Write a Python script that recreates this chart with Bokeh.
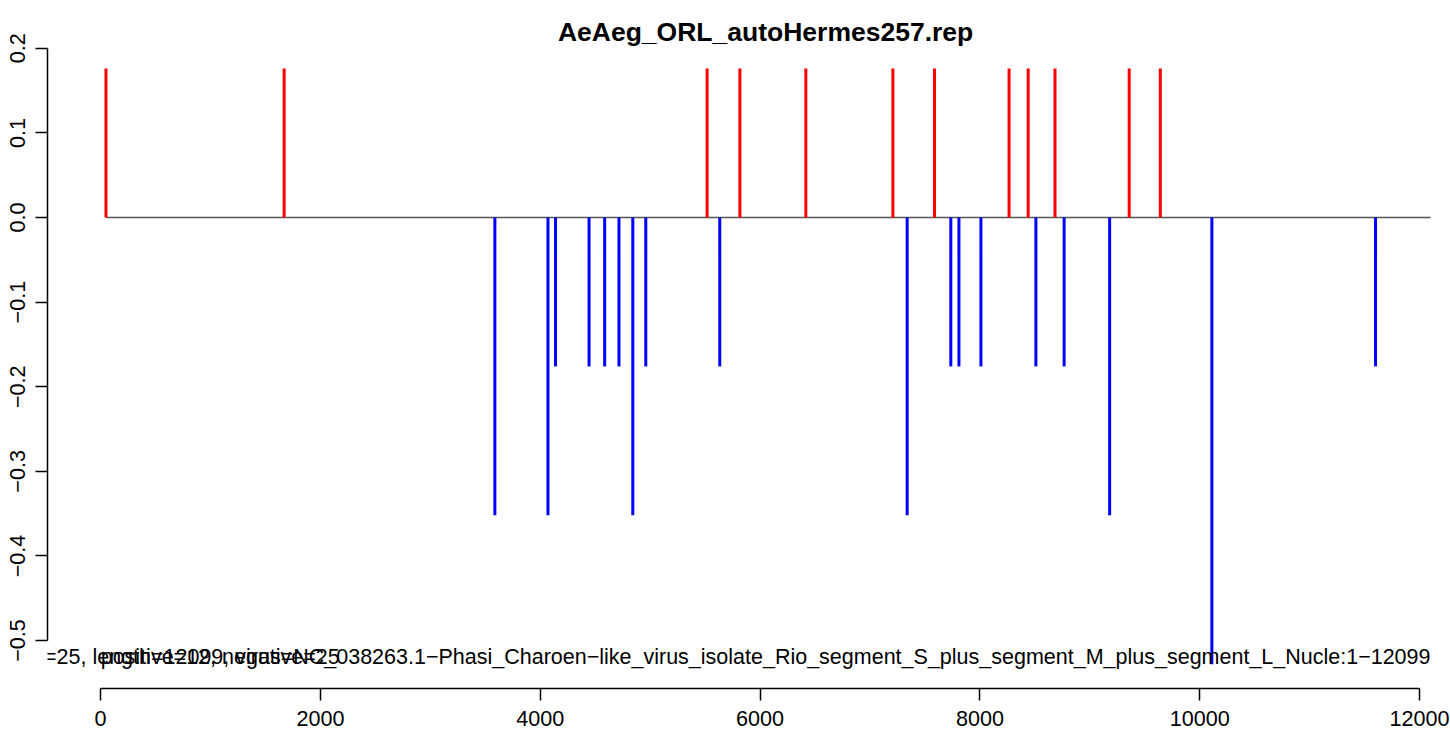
from bokeh.plotting import figure
from bokeh.models import Range1d, FixedTicker
from bokeh.core.properties import value
from bokeh.embed import file_html
from bokeh.resources import INLINE

# ---- data ----
title_text = "AeAeg_ORL_autoHermes257.rep"
seq_length = 12099

red_pos = [49, 1670, 5518, 5816, 6416, 7208, 7587, 8265, 8439, 8683, 9358, 9641]
red_val = [0.176, 0.176, 0.176, 0.176, 0.176, 0.176, 0.176, 0.176, 0.176, 0.176, 0.176, 0.176]

blue_pos = [3587, 4070, 4139, 4444, 4586, 4716, 4842, 4960, 5633, 7338,
            7735, 7809, 8009, 8509, 8766, 9180, 10110, 11599]
blue_val = [-0.352, -0.352, -0.176, -0.176, -0.176, -0.176, -0.352, -0.176, -0.176, -0.352,
            -0.176, -0.176, -0.176, -0.176, -0.176, -0.352, -0.528, -0.176]

x_ticks = [0, 2000, 4000, 6000, 8000, 10000, 12000]
y_ticks = [-0.5, -0.4, -0.3, -0.2, -0.1, 0.0, 0.1, 0.2]
y_tick_labels = ["\u22120.5", "\u22120.4", "\u22120.3", "\u22120.2", "\u22120.1", "0.0", "0.1", "0.2"]

info_left = "positive=12, negative=25"
# visible part of the long right-aligned label (its start is cut by the plot edge in the original)
info_right = ("=25, length=12099, virus=NC_038263.1\u2212Phasi_Charoen\u2212like_virus_isolate_Rio_"
              "segment_S_plus_segment_M_plus_segment_L_Nucle:1\u221212099")

FONT = "Liberation Sans"

# R-style plot region: x extended 4% on each side of [1, seq_length]
x_lo = 1 - 0.04 * (seq_length - 1)
x_hi = seq_length + 0.04 * (seq_length - 1)

p = figure(width=1450, height=740, output_backend="svg", toolbar_location=None,
           x_range=Range1d(x_lo, 12281), y_range=Range1d(-0.5567, 0.2447),
           min_border_left=47, min_border_top=10, min_border_bottom=52, min_border_right=0)
p.outline_line_color = None
p.xgrid.visible = False
p.ygrid.visible = False
p.background_fill_color = "white"
p.border_fill_color = "white"

# zero baseline
p.line([red_pos[0], seq_length], [0, 0], line_color="#555555", line_width=1.3)

# stems
p.segment(x0=red_pos, y0=[0] * len(red_pos), x1=red_pos, y1=red_val,
          line_color="#FF0000", line_width=3)
p.segment(x0=blue_pos, y0=[0] * len(blue_pos), x1=blue_pos, y1=blue_val,
          line_color="#0000FF", line_width=3)

# bottom info texts
p.text(x=[seq_length], y=[-0.52], text=[info_right], text_align="right", text_baseline="middle",
       text_font=value(FONT), text_font_size="21.5px", text_color="black")
p.text(x=[1], y=[-0.52], text=[info_left], text_align="left", text_baseline="middle",
       text_font=value(FONT), text_font_size="21.5px", text_color="black")

# title (centered over the R plot region)
p.text(x=[(x_lo + x_hi) / 2], y=[0.2187], text=[title_text], text_align="center",
       text_baseline="middle", text_font=value(FONT), text_font_size="26.5px",
       text_font_style="bold", text_color="black")

# axes
xa = p.xaxis[0]
xa.ticker = FixedTicker(ticks=x_ticks)
xa.bounds = (x_ticks[0], x_ticks[-1])
xa.minor_tick_line_color = None
xa.major_tick_out = 12
xa.major_tick_in = 0
xa.major_label_standoff = 10
xa.major_label_text_font = FONT
xa.major_label_text_font_size = "21.6px"
xa.major_label_text_color = "black"
xa.axis_line_width = 1.5
xa.major_tick_line_width = 1.5

ya = p.yaxis[0]
ya.ticker = FixedTicker(ticks=y_ticks)
ya.bounds = (y_ticks[0], y_ticks[-1])
ya.major_label_overrides = {t: l for t, l in zip(y_ticks, y_tick_labels)}
ya.major_label_orientation = "vertical"
ya.minor_tick_line_color = None
ya.major_tick_out = 12
ya.major_tick_in = 0
ya.major_label_standoff = 10
ya.major_label_text_font = FONT
ya.major_label_text_font_size = "21.6px"
ya.major_label_text_color = "black"
ya.axis_line_width = 1.5
ya.major_tick_line_width = 1.5

open("out.html", "w").write(file_html(p, INLINE))
